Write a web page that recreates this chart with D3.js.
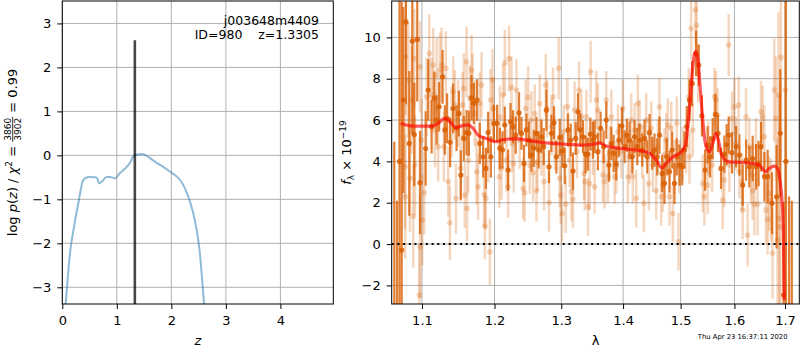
<!DOCTYPE html>
<html>
<head>
<meta charset="utf-8">
<script src="https://cdn.jsdelivr.net/npm/d3@7"></script>
<style>
  body { margin: 0; background: #fff; }
  svg { font-family: "DejaVu Sans", sans-serif; }
</style>
</head>
<body>
<div id="chart"></div>
<script>
/// Redshift probability curve (left panel)
var pzZ = [0.062,0.141,0.215,0.294,0.386,0.478,0.600,0.643,0.673,0.722,
           0.814,0.875,0.967,1.059,1.150,1.242,1.303,1.376,1.457,1.548,
           1.64,1.73,1.853,1.976,2.068,2.16,2.25,2.34,2.43,2.51,2.60];
var pzLog = [-3.38,-2.23,-1.62,-1.09,-0.56,-0.49,-0.50,-0.52,-0.64,-0.60,
             -0.49,-0.49,-0.52,-0.40,-0.30,-0.17,-0.02,0.02,0.03,-0.01,
             -0.09,-0.17,-0.26,-0.37,-0.45,-0.56,-0.75,-1.05,-1.47,-2.08,-3.38];
var zBest = 1.3305;
var zBestTop = 2.62;
var pzXTicks = [0, 1, 2, 3, 4];
var pzYTicks = [-3, -2, -1, 0, 1, 2, 3];

/// Combined spectrum (dark points)
var darkLam = [1.0641,1.0676,1.0708,1.0736,1.0757,1.0791,1.0834,1.0873,1.0899,1.0938,
  1.0974,1.1049,1.1083,1.1128,1.1163,1.1195,1.1229,1.1275,1.1306,1.1337,
  1.1378,1.1419,1.1466,1.1498,1.1525,1.1566,1.1604,1.1636,1.1673,1.1706,
  1.1752,1.1790,1.1837,1.1876,1.1909,1.1947,1.1990,1.2037,1.2076,1.2115,
  1.2149,1.2197,1.2232,1.2270,1.2309,1.2358,1.2394,1.2432,1.2468,1.2507,
  1.2543,1.2578,1.2619,1.2653,1.2694,1.2729,1.2770,1.2810,1.2847,1.2887,
  1.2924,1.2976,1.3018,1.3054,1.3106,1.3148,1.3184,1.3227,1.3263,1.3301,
  1.3343,1.3386,1.3423,1.3461,1.3503,1.3531,1.3584,1.3628,1.3677,1.3721,
  1.3764,1.3804,1.3842,1.3887,1.3930,1.3980,1.4025,1.4064,1.4109,1.4155,
  1.4194,1.4240,1.4279,1.4325,1.4365,1.4411,1.4451,1.4498,1.4538,1.4585,
  1.4625,1.4672,1.4713,1.4753,1.4801,1.4849,1.4890,1.4931,1.4979,1.5028,
  1.5069,1.5111,1.5160,1.5209,1.5281,1.5329,1.5388,1.5446,1.5494,1.5539,
  1.5588,1.5638,1.5688,1.5745,1.5808,1.5851,1.5890,1.5955,1.6032,1.6095,
  1.6159,1.6225,1.6289,1.6354,1.6421,1.6470,1.6519,1.6585,1.6650,1.6737,
  1.6830,1.6904,1.6971,1.7019,1.7084,1.7139];
var darkFlux = [-3.0,-4.0,4.0,-0.29,6.97,10.75,4.87,9.82,5.3,9.9,
  2.97,4.62,7.45,5.68,7.05,6.0,6.64,8.09,5.52,6.08,
  4.92,6.56,5.6,6.32,3.34,5.11,5.39,5.36,7.08,6.81,
  6.97,4.87,4.22,3.66,5.4,4.22,5.84,5.84,4.63,4.56,
  5.76,3.58,5.92,5.68,5.27,6.35,5.36,3.9,5.52,5.03,
  4.31,4.63,5.36,4.55,5.19,4.71,6.48,3.74,5.36,5.87,
  4.22,5.16,4.51,3.79,5.52,5.03,3.53,5.11,6.4,5.52,
  5.19,4.34,4.35,5.32,5.03,5.19,4.47,5.6,4.71,6.0,
  3.82,4.87,4.39,3.87,5.03,5.71,4.71,5.27,5.03,4.22,
  5.19,4.71,5.03,4.55,5.11,4.22,5.39,4.39,4.55,4.22,
  5.27,3.42,2.94,4.22,3.5,4.55,2.94,4.22,3.82,3.74,
  4.55,5.68,6.97,7.77,9.22,8.66,6.2,3.58,4.8,4.22,
  5.1,6.27,5.36,3.66,4.35,4.8,5.27,4.42,4.71,4.31,
  2.85,4.06,3.74,4.14,3.74,3.9,4.71,3.26,3.26,1.97,
  2.29,5.36,-2.47,4.0,-6.0,-6.0];
var darkErr = [7.95,6.1,9.0,12.0,4.5,4.0,3.5,4.5,2.5,3.0,
  2.5,1.8,1.5,1.3,1.3,1.2,1.2,1.3,1.2,1.2,
  1.2,1.2,1.1,1.1,1.2,1.1,1.1,1.1,1.1,1.0,
  1.0,1.0,1.0,1.0,1.0,1.0,0.9,0.9,1.0,0.9,
  0.9,1.0,0.9,0.8,0.9,1.0,0.8,0.9,0.8,0.9,
  0.8,0.9,0.8,0.9,0.8,0.9,1.0,0.8,0.9,0.8,
  0.8,0.9,0.8,0.9,0.8,0.8,0.9,0.8,0.9,0.8,
  0.8,0.9,0.8,0.8,0.9,0.8,0.9,0.8,0.8,0.9,
  0.8,0.8,0.9,0.8,0.8,0.9,0.8,0.8,0.9,0.8,
  0.8,0.9,0.8,0.8,0.9,0.8,0.9,0.8,0.8,0.9,
  0.9,0.9,1.0,0.9,1.0,0.9,1.0,0.9,1.0,0.9,
  0.9,1.0,1.0,1.1,1.1,1.0,1.0,1.0,0.9,1.0,
  1.0,1.0,0.9,1.0,0.9,1.0,0.9,1.0,1.0,1.0,
  1.0,1.0,1.0,1.1,1.1,1.1,1.2,1.2,1.3,1.5,
  2.5,3.1,4.5,12.0,8.3,8.1];

/// Individual exposures (light points)
var lightLam = [1.0779,1.0781,1.0788,1.0821,1.0843,1.0865,1.0886,1.0899,1.0908,1.0965,
  1.0974,1.0975,1.0996,1.1004,1.1030,1.1062,1.1097,1.1128,1.1149,1.1172,
  1.1195,1.1216,1.1239,1.1262,1.1293,1.1320,1.1352,1.1375,1.1398,1.1420,
  1.1443,1.1457,1.1488,1.1521,1.1549,1.1567,1.1580,1.1604,1.1612,1.1626,
  1.1650,1.1674,1.1688,1.1720,1.1744,1.1766,1.1790,1.1815,1.1852,1.1862,
  1.1876,1.1908,1.1933,1.1943,1.1971,1.1982,1.2069,1.2076,1.2100,1.2124,
  1.2149,1.2173,1.2197,1.2212,1.2247,1.2255,1.2280,1.2320,1.2368,1.2417,
  1.2442,1.2457,1.2493,1.2518,1.2543,1.2568,1.2593,1.2619,1.2634,1.2668,
  1.2694,1.2734,1.2760,1.2780,1.2810,1.2847,1.2872,1.2898,1.2960,1.2976,
  1.2991,1.3012,1.3038,1.3069,1.3096,1.3132,1.3159,1.3184,1.3210,1.3247,
  1.3279,1.3317,1.3359,1.3370,1.3397,1.3423,1.3450,1.3466,1.3503,1.3531,
  1.3558,1.3584,1.3665,1.3693,1.3720,1.3747,1.3776,1.3804,1.3859,1.3887,
  1.3914,1.3970,1.3997,1.4081,1.4109,1.4138,1.4165,1.4194,1.4223,1.4250,
  1.4279,1.4325,1.4353,1.4394,1.4439,1.4481,1.4509,1.4568,1.4596,1.4625,
  1.4655,1.4683,1.4713,1.4743,1.4771,1.4801,1.4831,1.4860,1.4890,1.4931,
  1.4962,1.4979,1.5038,1.5099,1.5147,1.5160,1.5190,1.5220,1.5269,1.5292,
  1.5318,1.5403,1.5434,1.5495,1.5508,1.5577,1.5620,1.5651,1.5681,1.5776,
  1.5808,1.5890,1.5903,1.5954,1.5998,1.6031,1.6081,1.6095,1.6147,1.6158,
  1.6224,1.6255,1.6288,1.6321,1.6352,1.6386,1.6419,1.6451,1.6517,1.6549,
  1.6583,1.6616,1.6649,1.6683,1.6716,1.6748,1.6782,1.6816,1.6849,1.6869,
  1.6883,1.6903,1.6917,1.7005];
var lightFlux = [3.74,2.29,9.06,7.93,3.18,6.97,1.35,8.98,3.82,-2.47,
  8.58,-0.13,5.03,1.16,2.48,7.13,9.22,7.21,8.66,5.52,
  8.17,4.71,8.42,8.66,4.71,8.50,3.02,1.03,5.92,7.37,
  6.72,2.2,6.32,3.66,6.72,7.53,2.37,8.82,1.72,4.06,
  7.05,8.42,7.61,6.32,3.50,2.77,6.8,7.69,2.4,0.87,
  2.2,4.47,-0.37,6.97,7.93,6.56,3.26,6.16,3.66,7.21,
  8.77,4.06,2.77,8.98,7.58,4.87,3.9,7.45,5.03,2.69,
  2.48,6.56,7.1,3.82,6.0,3.45,6.32,2.58,3.95,6.8,
  4.71,3.02,7.69,6.56,2.01,5.68,7.13,4.87,8.5,3.18,
  2.37,1.48,5.44,1.93,6.64,4.06,2.53,2.17,6.48,4.47,
  7.45,6.16,3.42,3.02,6.16,1.8,2.93,8.34,4.63,2.77,
  6.97,6.48,3.34,3.02,6.97,3.26,4.39,6.16,3.26,3.74,
  5.44,4.47,6.56,3.26,4.22,6.0,3.26,5.52,2.2,6.8,
  5.68,4.47,1.97,6.0,2.93,5.6,3.82,2.58,4.71,6.64,
  2.29,2.85,4.31,5.03,5.76,2.29,5.6,1.48,3.74,5.84,
  0.11,3.74,4.39,4.71,7.13,4.22,10.43,5.52,11.32,10.59,
  8.26,2.93,2.29,2.85,4.63,3.82,7.13,6.97,6.24,2.13,
  3.1,9.63,3.82,6.08,6.64,4.87,6.72,3.5,3.02,1.64,
  6.16,0.43,4.71,3.34,2.58,1.93,4.71,1.93,6.4,6.16,
  5.19,1.64,1.2,2.45,2.13,-0.45,7.45,6.08,0.19,7.21,
  1.24,0.84,9.03,7.45];
var lightErr = [3.0,3.0,2.8,2.8,2.6,2.6,2.5,2.4,2.4,2.5,
  2.2,2.5,2.0,2.2,2.0,1.9,1.9,1.8,1.8,1.8,
  1.8,1.7,1.8,1.8,1.7,1.8,1.7,1.8,1.7,1.7,
  1.7,1.7,1.6,1.6,1.6,1.7,1.6,1.7,1.6,1.6,
  1.6,1.7,1.6,1.6,1.6,1.6,1.5,1.6,1.6,1.6,
  1.5,1.5,1.6,1.5,1.5,1.5,1.5,1.5,1.5,1.5,
  1.6,1.5,1.5,1.6,1.5,1.4,1.4,1.5,1.4,1.5,
  1.4,1.4,1.5,1.4,1.4,1.4,1.4,1.5,1.4,1.4,
  1.4,1.4,1.5,1.4,1.4,1.4,1.4,1.3,1.5,1.4,
  1.4,1.4,1.3,1.4,1.4,1.3,1.4,1.4,1.4,1.3,
  1.4,1.3,1.3,1.4,1.3,1.4,1.3,1.5,1.3,1.3,
  1.4,1.3,1.3,1.3,1.4,1.3,1.3,1.3,1.3,1.3,
  1.3,1.3,1.4,1.3,1.3,1.3,1.3,1.3,1.4,1.4,
  1.3,1.3,1.4,1.3,1.3,1.3,1.3,1.4,1.3,1.4,
  1.4,1.3,1.3,1.3,1.3,1.4,1.3,1.4,1.3,1.3,
  1.4,1.3,1.3,1.3,1.4,1.3,1.5,1.3,1.6,1.5,
  1.4,1.4,1.4,1.4,1.3,1.3,1.4,1.4,1.3,1.4,
  1.3,1.5,1.3,1.3,1.4,1.3,1.4,1.3,1.4,1.4,
  1.4,1.5,1.4,1.4,1.4,1.5,1.4,1.5,1.5,1.5,
  1.5,1.6,1.7,1.8,2.0,2.2,2.5,3.0,5.0,4.0,
  6.0,7.0,5.0,6.0];

/// Best-fit model
var modelLam = [1.0723,1.0843,1.0974,1.1149,1.1216,1.1306,1.1375,1.1457,1.1535,1.1626,
  1.1696,1.1766,1.1886,1.2029,1.2124,1.2320,1.2518,1.2770,1.3027,1.3343,
  1.3503,1.3612,1.3720,1.3942,1.4223,1.4451,1.4568,1.4665,1.4743,1.4860,
  1.5010,1.5087,1.5129,1.5172,1.5220,1.5269,1.5311,1.5355,1.5403,1.5465,
  1.5527,1.5589,1.5651,1.5695,1.5745,1.5808,1.5903,1.6158,1.6419,1.6517,
  1.6603,1.6683,1.6782,1.6849,1.6897,1.6938,1.6965,1.6985];
var modelFlux = [5.84,5.72,5.71,5.71,5.84,6.08,5.92,5.63,5.72,5.77,
  5.6,5.27,5.11,4.95,5.06,5.09,5.0,4.9,4.84,4.79,
  4.82,4.9,4.74,4.63,4.55,4.39,4.06,3.69,3.9,4.22,
  4.47,4.79,5.68,6.97,8.58,9.31,8.98,7.61,6.0,4.71,
  4.47,4.87,5.36,5.03,4.39,4.1,3.98,3.95,3.87,3.74,
  3.5,3.66,3.77,3.66,3.1,2.13,0.84,-2.7];
var specXTicks = [1.1, 1.2, 1.3, 1.4, 1.5, 1.6, 1.7];
var specYTicks = [-2, 0, 2, 4, 6, 8, 10];

var orange = "#d95f02";

var svg = d3.select("#chart")
  .append("svg")
  .attr("width", 800)
  .attr("height", 350);

var defs = svg.append("defs");

/// panel boxes (pixel frames of the two axes)
var pzBox = {left: 62.3, right: 333.3, top: 1, bottom: 304};
var spBox = {left: 391.7, right: 799.3, top: 1, bottom: 304};

var pzX = d3.scaleLinear().domain([0, 4.97]).range([pzBox.left, pzBox.right]);
var pzY = d3.scaleLinear().domain([-3.38, 3.51]).range([pzBox.bottom, pzBox.top]);
var spX = d3.scaleLog().domain([1.0608, 1.7294]).range([spBox.left, spBox.right]);
var spY = d3.scaleLinear().domain([-2.9, 11.76]).range([spBox.bottom, spBox.top]);

function addClip(id, box) {
  defs.append("clipPath").attr("id", id)
    .append("rect")
    .attr("x", box.left).attr("y", box.top)
    .attr("width", box.right - box.left).attr("height", box.bottom - box.top);
}
addClip("clipPz", pzBox);
addClip("clipSp", spBox);

function drawGrid(box, xs, ys, xt, yt) {
  var g = svg.append("g").attr("stroke", "#b0b0b0").attr("stroke-width", 1);
  g.selectAll(".gx").data(xt).enter().append("line")
    .attr("x1", d => xs(d)).attr("x2", d => xs(d))
    .attr("y1", box.top).attr("y2", box.bottom);
  g.selectAll(".gy").data(yt).enter().append("line")
    .attr("x1", box.left).attr("x2", box.right)
    .attr("y1", d => ys(d)).attr("y2", d => ys(d));
}

function drawAxes(box, xs, ys, xt, yt, xfmt, yfmt) {
  var ax = svg.append("g")
    .attr("transform", `translate(0, ${box.bottom})`)
    .call(d3.axisBottom(xs).tickValues(xt).tickFormat(xfmt).tickSize(5).tickPadding(6.5));
  var ay = svg.append("g")
    .attr("transform", `translate(${box.left}, 0)`)
    .call(d3.axisLeft(ys).tickValues(yt).tickFormat(yfmt).tickSize(5).tickPadding(6));
  [ax, ay].forEach(function(a) {
    a.select(".domain").remove();
    a.attr("font-family", "DejaVu Sans").attr("font-size", 13);
    a.selectAll(".tick line").attr("stroke", "#000");
    a.selectAll(".tick text").attr("fill", "#000");
  });
  svg.append("rect")
    .attr("x", box.left).attr("y", box.top)
    .attr("width", box.right - box.left).attr("height", box.bottom - box.top)
    .attr("fill", "none").attr("stroke", "#000").attr("stroke-width", 1);
}

/// ---------- left panel: p(z) ----------
drawGrid(pzBox, pzX, pzY, pzXTicks, pzYTicks);

var pzG = svg.append("g").attr("clip-path", "url(#clipPz)");

pzG.append("path")
  .datum(d3.zip(pzZ, pzLog))
  .attr("d", d3.line().x(d => pzX(d[0])).y(d => pzY(d[1])).curve(d3.curveMonotoneX))
  .attr("fill", "none")
  .attr("stroke", "#1f77b4")
  .attr("stroke-opacity", 0.5)
  .attr("stroke-width", 2);

pzG.append("line")
  .attr("x1", pzX(zBest)).attr("x2", pzX(zBest))
  .attr("y1", pzY(pzY.domain()[0])).attr("y2", pzY(zBestTop))
  .attr("stroke", "#000").attr("stroke-opacity", 0.72).attr("stroke-width", 2.6);

drawAxes(pzBox, pzX, pzY, pzXTicks, pzYTicks, d3.format("d"), d3.format("d"));

svg.append("text")
  .attr("x", 319).attr("y", 24.5)
  .attr("text-anchor", "end").attr("font-size", 12.5)
  .text("j003648m4409");
svg.append("text")
  .attr("x", 319).attr("y", 39)
  .attr("text-anchor", "end").attr("font-size", 12.5)
  .style("white-space", "pre")
  .text("ID=980    z=1.3305");

/// ---------- right panel: spectrum ----------
drawGrid(spBox, spX, spY, specXTicks, specYTicks);

var spG = svg.append("g").attr("clip-path", "url(#clipSp)");

var lightData = d3.zip(lightLam, lightFlux, lightErr);
var darkData = d3.zip(darkLam, darkFlux, darkErr);

spG.selectAll(".lightBar").data(lightData).enter().append("line")
  .attr("x1", d => spX(d[0])).attr("x2", d => spX(d[0]))
  .attr("y1", d => spY(d[1] - d[2])).attr("y2", d => spY(d[1] + d[2]))
  .attr("stroke", orange).attr("stroke-opacity", 0.25).attr("stroke-width", 2.5);
spG.selectAll(".lightDot").data(lightData).enter().append("circle")
  .attr("cx", d => spX(d[0])).attr("cy", d => spY(d[1]))
  .attr("r", 2.8)
  .attr("fill", orange).attr("fill-opacity", 0.25);

spG.selectAll(".darkBar").data(darkData).enter().append("line")
  .attr("x1", d => spX(d[0])).attr("x2", d => spX(d[0]))
  .attr("y1", d => spY(d[1] - d[2])).attr("y2", d => spY(d[1] + d[2]))
  .attr("stroke", orange).attr("stroke-opacity", 0.8).attr("stroke-width", 2.2);
spG.selectAll(".darkDot").data(darkData).enter().append("circle")
  .attr("cx", d => spX(d[0])).attr("cy", d => spY(d[1]))
  .attr("r", 2.6)
  .attr("fill", orange).attr("fill-opacity", 0.85);

spG.append("path")
  .datum(d3.zip(modelLam, modelFlux))
  .attr("d", d3.line().x(d => spX(d[0])).y(d => spY(d[1])).curve(d3.curveMonotoneX))
  .attr("fill", "none")
  .attr("stroke", "#ff0000")
  .attr("stroke-opacity", 0.65)
  .attr("stroke-width", 3.2);

spG.append("line")
  .attr("x1", spBox.left).attr("x2", spBox.right)
  .attr("y1", spY(0)).attr("y2", spY(0))
  .attr("stroke", "#000").attr("stroke-width", 2)
  .attr("stroke-dasharray", "2,3.7");

drawAxes(spBox, spX, spY, specXTicks, specYTicks, d3.format(".1f"), d3.format("d"));

/// ---------- axis labels ----------
svg.append("text")
  .attr("x", (pzBox.left + pzBox.right) / 2).attr("y", 345)
  .attr("text-anchor", "middle").attr("font-size", 13)
  .attr("font-style", "italic")
  .text("z");
svg.append("text")
  .attr("x", (spBox.left + spBox.right) / 2).attr("y", 345)
  .attr("text-anchor", "middle").attr("font-size", 13)
  .text("λ");

/// right y label: f_lambda x 10^-19
var fLab = svg.append("text")
  .attr("transform", `translate(351, ${(spBox.top + spBox.bottom) / 2}) rotate(-90)`)
  .attr("text-anchor", "middle").attr("font-size", 13);
fLab.append("tspan").attr("font-style", "italic").text("f");
fLab.append("tspan").attr("font-size", 9).attr("dy", 3).text("λ");
fLab.append("tspan").attr("dy", -3).text(" × 10");
fLab.append("tspan").attr("font-size", 9).attr("dy", -5).text("−19");

/// left y label with the chi2 fraction
var yLab = svg.append("g")
  .attr("transform", `translate(17, ${(pzBox.top + pzBox.bottom) / 2}) rotate(-90)`)
  .attr("font-size", 13);
var part1 = yLab.append("text");
part1.append("tspan").text("log ");
part1.append("tspan").attr("font-style", "italic").text("p");
part1.append("tspan").text("(");
part1.append("tspan").attr("font-style", "italic").text("z");
part1.append("tspan").text(") / ");
part1.append("tspan").attr("font-style", "italic").text("χ");
part1.append("tspan").attr("font-size", 9).attr("dy", -5).text("2");
part1.append("tspan").attr("dy", 5).style("white-space", "pre").text(" = ");
var num = yLab.append("text").attr("font-size", 9).attr("text-anchor", "middle").text("3860");
var den = yLab.append("text").attr("font-size", 9).attr("text-anchor", "middle").text("3902");
var part2 = yLab.append("text").style("white-space", "pre").text(" = 0.99");

var w1 = part1.node().getComputedTextLength();
var wf = Math.max(num.node().getComputedTextLength(), den.node().getComputedTextLength()) + 2;
var w2 = part2.node().getComputedTextLength();
var x0 = -(w1 + wf + w2) / 2;
part1.attr("x", x0).attr("y", 0);
num.attr("x", x0 + w1 + wf / 2).attr("y", -6);
den.attr("x", x0 + w1 + wf / 2).attr("y", 3.5);
yLab.append("line")
  .attr("x1", x0 + w1).attr("x2", x0 + w1 + wf)
  .attr("y1", -4.3).attr("y2", -4.3)
  .attr("stroke", "#000").attr("stroke-width", 0.8);
part2.attr("x", x0 + w1 + wf).attr("y", 0);

/// timestamp
svg.append("text")
  .attr("x", 787.5).attr("y", 338.5)
  .attr("text-anchor", "end").attr("font-size", 6.8)
  .text("Thu Apr 23 16:37:11 2020");
</script>
</body>
</html>
